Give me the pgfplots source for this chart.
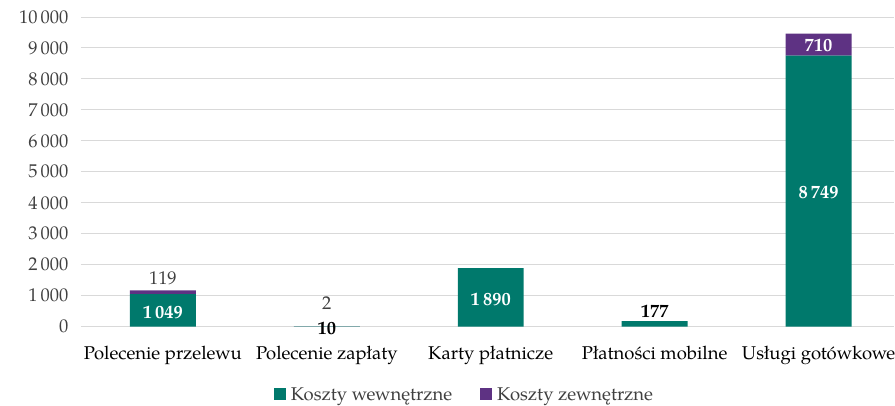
\documentclass[border=0pt]{standalone}
\usepackage{fontspec}
\setmainfont{TeX Gyre Pagella}
\usepackage{pgfplots}
\pgfplotsset{compat=1.18}
\definecolor{teal1}{RGB}{0,121,108}
\definecolor{purp}{RGB}{94,50,131}
\definecolor{gridc}{RGB}{217,217,217}
\definecolor{txt}{RGB}{64,64,64}
\newcommand{\ff}{\fontsize{18.5bp}{21bp}\selectfont}
\begin{document}
\begin{tikzpicture}
\pgfplotsset{common/.style={scale only axis, width=814bp, height=310bp,
  xmin=-0.5, xmax=4.46, ymin=0, ymax=10000, clip=false}}
\begin{axis}[name=ax, common, ybar stacked, bar width=66bp,
  axis line style={draw=none}, tick style={draw=none},
  ymajorgrids, grid style={gridc, line width=0.9bp},
  ytick={0,1000,...,10000}, scaled y ticks=false,
  xtick={0,1,2,3,4},
  xticklabels={Polecenie przelewu, Polecenie zapłaty, Karty płatnicze, Płatności mobilne, Usługi gotówkowe},
  yticklabel style={font=\ff, text=txt, xshift=-9bp},
  xticklabel style={font=\ff, text=black, text height=13bp, text depth=4bp, yshift=-16bp},
  /pgf/number format/.cd, 1000 sep={\,}, assume math mode=true, /pgfplots/.cd,
  legend columns=2,
  legend style={at={(0.4717,-0.219)}, anchor=center, draw=none, font=\ff,
    inner sep=0pt, nodes={inner sep=2bp, text=txt},
    /tikz/every even column/.append style={column sep=26bp}},
  legend image code/.code={\fill[#1] (0bp,-6bp) rectangle (12bp,6bp);},
]
\addplot[fill=teal1, draw=none] coordinates {(0,1049) (1,10) (2,1890) (3,177) (4,8749)};
\addplot[fill=purp, draw=none] coordinates {(0,119) (1,2) (2,0) (3,0) (4,710)};
\legend{\,Koszty wewnętrzne, \,Koszty zewnętrzne}
\end{axis}
\begin{axis}[common, hide axis]
\addplot[draw=none, nodes near coords, point meta=explicit symbolic,
  nodes near coords style={anchor=center, text=white, font=\ff\bfseries}]
  coordinates {(0,470) [1\,049] (2,871) [1\,890] (4,4323) [8\,749] (4,9065) [710]};
\addplot[draw=none, nodes near coords, point meta=explicit symbolic,
  nodes near coords style={anchor=center, text=black, font=\ff\bfseries}]
  coordinates {(1,-65) [10] (3,484) [177]};
\addplot[draw=none, nodes near coords, point meta=explicit symbolic,
  nodes near coords style={anchor=center, text=txt, font=\ff}]
  coordinates {(0,1548) [119] (1,774) [2]};
\end{axis}
\pgfresetboundingbox
\path ([shift={(-81bp,-79bp)}]ax.south west) rectangle ([shift={(1bp,17bp)}]ax.north east);
\end{tikzpicture}
\end{document}
